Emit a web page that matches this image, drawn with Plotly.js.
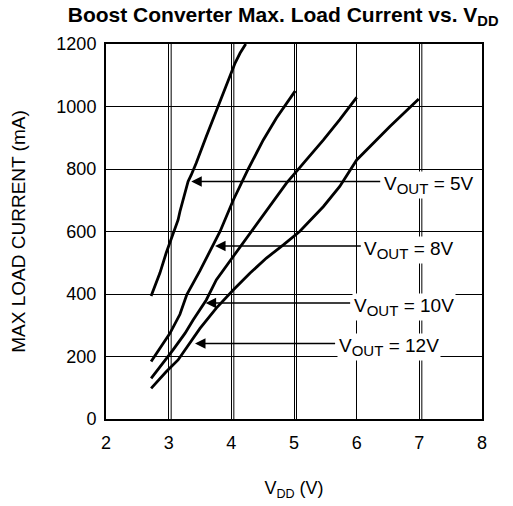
<!DOCTYPE html>
<html>
<head>
<meta charset="utf-8">
<script src="https://cdn.plot.ly/plotly-3.0.1.min.js"></script>
<style>html,body{margin:0;padding:0;background:#fff;}#chart{width:513px;height:506px;}</style>
</head>
<body>
<div id="chart"></div>
<script>
// V_DD (V) and max load current (mA) for each output voltage
const vdd5  = [2.72, 2.86, 2.96, 3.08, 3.15, 3.18, 3.26, 3.31, 3.36, 3.44, 3.60, 3.79, 4.00, 4.06, 4.14, 4.23];
const ild5  = [394, 467, 531, 600, 637, 664, 723, 760, 781, 819, 904, 1000, 1112, 1139, 1171, 1200];

const vdd8  = [2.72, 2.88, 3.02, 3.18, 3.29, 3.50, 3.66, 3.82, 4.03, 4.27, 4.51, 4.72, 5.02];
const ild8  = [184, 232, 274, 335, 398, 475, 535, 600, 700, 800, 893, 963, 1050];

const vdd10 = [2.72, 2.91, 3.07, 3.26, 3.39, 3.60, 3.76, 4.03, 4.32, 4.46, 4.67, 4.88, 5.20, 5.47, 5.73, 6.00];
const ild10 = [130, 178, 221, 274, 317, 381, 445, 520, 600, 637, 696, 755, 830, 893, 958, 1029];

const vdd12 = [2.72, 2.96, 3.15, 3.28, 3.50, 3.76, 4.03, 4.30, 4.56, 4.83, 5.09, 5.47, 5.73, 6.00, 6.27, 6.53, 6.99];
const ild12 = [98, 151, 189, 226, 290, 355, 413, 467, 515, 557, 600, 680, 744, 829, 883, 936, 1024];

const seriesNames = ['V<sub>OUT</sub> = 5V', 'V<sub>OUT</sub> = 8V', 'V<sub>OUT</sub> = 10V', 'V<sub>OUT</sub> = 12V'];
const labelTexts = [
  'V<sub><span style="font-size:15px">OUT</span></sub> = 5V',
  'V<sub><span style="font-size:15px">OUT</span></sub> = 8V',
  'V<sub><span style="font-size:15px">OUT</span></sub> = 10V',
  'V<sub><span style="font-size:15px">OUT</span></sub> = 12V'
];
const xTicks = [2, 3, 4, 5, 6, 7, 8];
const yTicks = [0, 200, 400, 600, 800, 1000, 1200];

const FONT = 'Liberation Sans, Arial, Helvetica, sans-serif';
const xs = [vdd5, vdd8, vdd10, vdd12];
const ys = [ild5, ild8, ild10, ild12];

const traces = xs.map((x, i) => ({
  x: x, y: ys[i], type: 'scatter', mode: 'lines', name: seriesNames[i],
  line: {color: '#000', width: 2.8}, showlegend: false, hoverinfo: 'skip'
}));

// arrows: tip on curve, tail at label
const arrows = [
  {x: 3.36, y: 760, ax: 6.40, ay: 760},
  {x: 3.74, y: 554, ax: 6.09, ay: 554},
  {x: 3.59, y: 371, ax: 5.92, ay: 371},
  {x: 3.42, y: 242, ax: 5.68, ay: 242}
];
const labelPos = [
  {x: 6.40, y: 748},
  {x: 6.09, y: 542},
  {x: 5.92, y: 358},
  {x: 5.68, y: 229}
];

const annotations = [];
arrows.forEach(a => annotations.push({
  x: a.x, y: a.y, ax: a.ax, ay: a.ay, xref: 'x', yref: 'y', axref: 'x', ayref: 'y',
  text: '', showarrow: true, arrowhead: 2, arrowsize: 1.4, arrowwidth: 1.5,
  arrowcolor: '#000', standoff: 0, startstandoff: 0
}));
labelPos.forEach((p, i) => annotations.push({
  x: p.x, y: p.y, xref: 'x', yref: 'y', text: labelTexts[i], showarrow: false,
  xanchor: 'left', yanchor: 'middle', bgcolor: '#fff', borderpad: 1,
  font: {family: FONT, size: 19, color: '#000'}
}));

const shapes = [3, 4, 5, 7].map(v => ({
  type: 'line', xref: 'x', yref: 'y', x0: v + 0.04, x1: v + 0.04, y0: 0, y1: 1200,
  line: {color: '#000', width: 1}, layer: 'below'
}));

const layout = {
  width: 513, height: 506,
  margin: {l: 106, r: 31, t: 44, b: 87},
  paper_bgcolor: '#fff', plot_bgcolor: '#fff',
  font: {family: FONT, size: 18, color: '#000'},
  title: {
    text: '<b>Boost Converter Max. Load Current vs. V<sub>DD</sub></b>',
    font: {family: FONT, size: 21, color: '#000'},
    x: 0.552, xanchor: 'center', xref: 'container', y: 0.972, yanchor: 'middle', yref: 'container'
  },
  xaxis: {
    range: [2, 8], tickvals: xTicks, ticktext: xTicks.map(String),
    showgrid: true, gridcolor: '#000', gridwidth: 1,
    showline: true, linecolor: '#000', linewidth: 2, mirror: true,
    ticks: '', zeroline: false, ticklabelstandoff: 6,
    tickfont: {family: FONT, size: 18, color: '#000'},
    title: {text: 'V<sub>DD</sub> (V)', font: {family: FONT, size: 18, color: '#000'}, standoff: 30}
  },
  yaxis: {
    range: [0, 1200], tickvals: yTicks, ticktext: yTicks.map(String),
    showgrid: true, gridcolor: '#000', gridwidth: 1,
    showline: true, linecolor: '#000', linewidth: 2, mirror: true,
    ticks: '', zeroline: false, ticklabelstandoff: 4,
    tickfont: {family: FONT, size: 18, color: '#000'},
    title: {text: 'MAX LOAD CURRENT (mA)', font: {family: FONT, size: 19, color: '#000'}, standoff: 26}
  },
  annotations: annotations,
  shapes: shapes,
  showlegend: false
};

Plotly.newPlot('chart', traces, layout, {staticPlot: true, displayModeBar: false});
</script>
</body>
</html>
